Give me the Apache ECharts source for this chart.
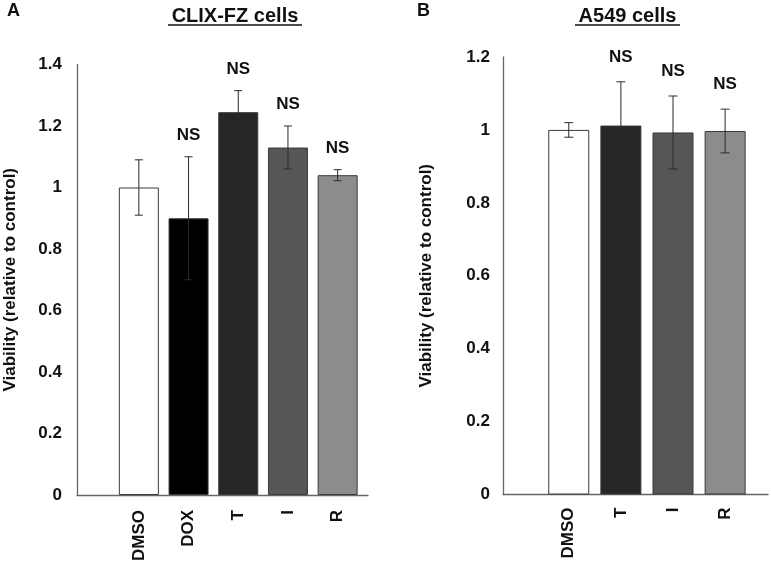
<!DOCTYPE html>
<html>
<head>
<meta charset="utf-8">
<script src="https://cdn.jsdelivr.net/npm/echarts@6/dist/echarts.min.js"></script>
<style>html,body{margin:0;padding:0;background:#fff}#c{width:771px;height:561px}</style>
</head>
<body>
<div id="c"></div>
<script>
// ---- data ----
var leftCategories = ['DMSO', 'DOX', 'T', 'I', 'R'];
var leftMeans = [1.0, 0.9, 1.245, 1.13, 1.04];
var leftErrors = [0.09, 0.2, 0.07, 0.07, 0.018];
var leftSig = ['', 'NS', 'NS', 'NS', 'NS'];
var leftTicks = [0, 0.2, 0.4, 0.6, 0.8, 1, 1.2, 1.4];

var rightCategories = ['DMSO', 'T', 'I', 'R'];
var rightMeans = [1.0, 1.012, 0.993, 0.997];
var rightErrors = [0.02, 0.12, 0.1, 0.06];
var rightSig = ['', 'NS', 'NS', 'NS'];
var rightTicks = [0, 0.2, 0.4, 0.6, 0.8, 1, 1.2];

var leftColors = ['#ffffff', '#000000', '#262626', '#565656', '#8c8c8c'];
var rightColors = ['#ffffff', '#262626', '#565656', '#8c8c8c'];

var FONT = "'Liberation Sans', Arial, sans-serif";
var chart = echarts.init(document.getElementById('c'), null, {renderer: 'canvas'});

function errData(means, errs, sig) {
  return means.map(function (m, i) { return [i, m - errs[i], m + errs[i], sig[i]]; });
}
function errRender(cap, lift) {
  return function (params, api) {
    var i = api.value(0);
    var lo = api.coord([i, api.value(1)]);
    var hi = api.coord([i, api.value(2)]);
    var x = lo[0];
    var style = {stroke: '#2b2b2b', lineWidth: 1};
    var children = [
      {type: 'line', shape: {x1: x, y1: lo[1], x2: x, y2: hi[1]}, style: style},
      {type: 'line', shape: {x1: x - cap, y1: lo[1], x2: x + cap, y2: lo[1]}, style: style},
      {type: 'line', shape: {x1: x - cap, y1: hi[1], x2: x + cap, y2: hi[1]}, style: style}
    ];
    var lbl = api.value(3);
    if (lbl) {
      children.push({type: 'text', style: {text: lbl, x: x, y: hi[1] - lift, align: 'center', verticalAlign: 'bottom',
        fill: '#111', font: 'bold 17px ' + FONT}});
    }
    return {type: 'group', children: children};
  };
}
function barData(means, colors) {
  return means.map(function (m, i) { return {value: m, itemStyle: {color: colors[i]}}; });
}

var axisLbl = {color: '#111', fontSize: 17, fontWeight: 'bold', fontFamily: FONT};
var axisLineStyle = {lineStyle: {color: '#666', width: 1.3}};
var nameStyle = {color: '#111', fontSize: 17, fontWeight: 'bold', fontFamily: FONT};

var option = {
  animation: false,
  backgroundColor: '#fff',
  grid: [
    {left: 77, right: 403, top: 64.5, bottom: 66, outerBoundsMode: 'none', containLabel: false},      // 0 left frame
    {left: 114, right: 408.5, top: 64.5, bottom: 66, outerBoundsMode: 'none', containLabel: false},   // 1 left bars
    {left: 503, right: 3, top: 57, bottom: 66.5, outerBoundsMode: 'none', containLabel: false},       // 2 right frame
    {left: 542.7, right: 19.8, top: 57, bottom: 66.5, outerBoundsMode: 'none', containLabel: false}   // 3 right bars
  ],
  xAxis: [
    {gridIndex: 0, type: 'value', min: 0, max: 1, axisLine: axisLineStyle, axisTick: {show: false}, axisLabel: {show: false}, splitLine: {show: false}},
    {gridIndex: 1, type: 'category', data: leftCategories, axisLine: {show: false}, axisTick: {show: false},
      axisLabel: Object.assign({rotate: 90, margin: 15, interval: 0}, axisLbl)},
    {gridIndex: 2, type: 'value', min: 0, max: 1, axisLine: axisLineStyle, axisTick: {show: false}, axisLabel: {show: false}, splitLine: {show: false}},
    {gridIndex: 3, type: 'category', data: rightCategories, axisLine: {show: false}, axisTick: {show: false},
      axisLabel: Object.assign({rotate: 90, margin: 13, interval: 0}, axisLbl)}
  ],
  yAxis: [
    {gridIndex: 0, type: 'value', min: leftTicks[0], max: leftTicks[leftTicks.length - 1], interval: leftTicks[1] - leftTicks[0],
      axisLine: Object.assign({show: true}, axisLineStyle), axisTick: {show: false}, splitLine: {show: false},
      axisLabel: Object.assign({margin: 15}, axisLbl),
      name: 'Viability (relative to control)', nameLocation: 'middle', nameGap: 58, nameRotate: 90,
      nameTextStyle: nameStyle},
    {gridIndex: 1, type: 'value', min: leftTicks[0], max: leftTicks[leftTicks.length - 1], show: false},
    {gridIndex: 2, type: 'value', min: rightTicks[0], max: rightTicks[rightTicks.length - 1], interval: rightTicks[1] - rightTicks[0],
      axisLine: Object.assign({show: true}, axisLineStyle), axisTick: {show: false}, splitLine: {show: false},
      axisLabel: Object.assign({margin: 13}, axisLbl),
      name: 'Viability (relative to control)', nameLocation: 'middle', nameGap: 68, nameRotate: 90,
      nameTextStyle: nameStyle},
    {gridIndex: 3, type: 'value', min: rightTicks[0], max: rightTicks[rightTicks.length - 1], show: false}
  ],
  series: [
    {type: 'bar', xAxisIndex: 1, yAxisIndex: 1, barWidth: 40, data: barData(leftMeans, leftColors),
      itemStyle: {borderColor: '#3a3a3a', borderWidth: 1}},
    {type: 'custom', xAxisIndex: 1, yAxisIndex: 1, renderItem: errRender(4, 13), data: errData(leftMeans, leftErrors, leftSig), z: 5},
    {type: 'bar', xAxisIndex: 3, yAxisIndex: 3, barWidth: 41, data: barData(rightMeans, rightColors),
      itemStyle: {borderColor: '#3a3a3a', borderWidth: 1}},
    {type: 'custom', xAxisIndex: 3, yAxisIndex: 3, renderItem: errRender(4.5, 16), data: errData(rightMeans, rightErrors, rightSig), z: 5}
  ],
  graphic: [
    {type: 'text', left: 7, top: 2, style: {text: 'A', font: 'bold 18px ' + FONT, fill: '#111'}},
    {type: 'text', left: 417, top: 2, style: {text: 'B', font: 'bold 18px ' + FONT, fill: '#111'}},
    {type: 'text', x: 235, y: 16, style: {text: 'CLIX-FZ cells', font: 'bold 20px ' + FONT, fill: '#111', align: 'center', verticalAlign: 'middle'}},
    {type: 'line', shape: {x1: 168, y1: 25, x2: 302, y2: 25}, style: {stroke: '#111', lineWidth: 1.5}},
    {type: 'text', x: 627.5, y: 16, style: {text: 'A549 cells', font: 'bold 20px ' + FONT, fill: '#111', align: 'center', verticalAlign: 'middle'}},
    {type: 'line', shape: {x1: 575, y1: 25, x2: 680, y2: 25}, style: {stroke: '#111', lineWidth: 1.5}}
  ]
};
chart.setOption(option);
</script>
</body>
</html>
